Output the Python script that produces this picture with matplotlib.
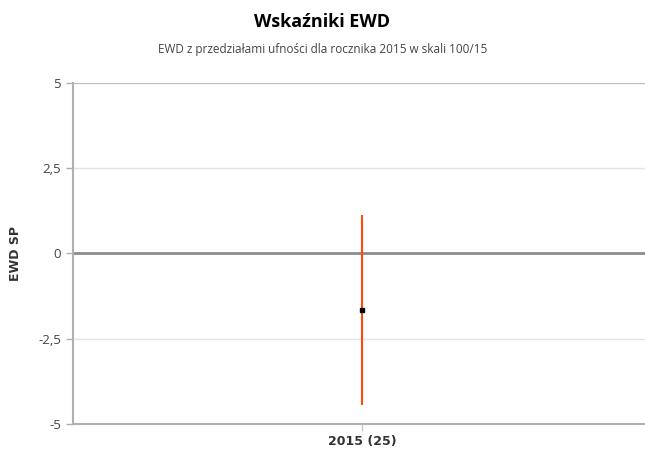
import numpy as np
import matplotlib.pyplot as plt

categories = ['2015 (25)']
ewd = [-1.66]
lower = [-4.44]
upper = [1.13]
yticks = [-5, -2.5, 0, 2.5, 5]
ytick_labels = ['-5', '-2,5', '0', '2,5', '5']

plt.rcParams['font.family'] = ['Open Sans', 'DejaVu Sans']

fig = plt.figure(figsize=(6.45, 4.49), dpi=100)
ax = fig.add_axes([73/645, 1-424/449, 1-73/645, (424-83)/449])

x = np.arange(len(categories))
ax.set_xlim(-0.5, 0.49)
ax.set_ylim(-5, 5)

for y in [2.5, -2.5]:
    ax.axhline(y, color='#e3e3e3', lw=1, zorder=0)
ax.axhline(5, color='#c0c0c0', lw=1, zorder=0)
ax.axhline(0, color='#8c8c8c', lw=2, zorder=1)

ax.vlines(x, lower, upper, color='#ff4a0a', lw=1.5, zorder=2)
ax.plot(x, ewd, 's', color='black', ms=3.5, zorder=3)

for s in ['top', 'right']:
    ax.spines[s].set_visible(False)
for s in ['left', 'bottom']:
    ax.spines[s].set_color('#b0b0b0')
    ax.spines[s].set_linewidth(1.5)

ax.set_yticks(yticks)
ax.set_yticklabels(ytick_labels)
ax.set_xticks(x)
ax.tick_params(axis='y', colors='#b0b0b0', labelcolor='#444444', labelsize=9.5, length=5, width=1)
ax.tick_params(axis='x', colors='#c8c8c8', labelcolor='#333333', length=5, width=1, pad=3)
ax.set_xticklabels(categories, family='DejaVu Sans', fontweight='bold', fontsize=9, color='#333333')

ax.set_ylabel('EWD SP', fontweight='bold', fontsize=9, color='#333333', family='DejaVu Sans', labelpad=12)

fig.text(0.5, 1-22/449, 'Wskaźniki EWD', ha='center', va='center', fontsize=13, fontweight='bold', color='black')
fig.text(0.5, 1-50/449, 'EWD z przedziałami ufności dla rocznika 2015 w skali 100/15', ha='center', va='center', fontsize=8.5, color='#444444')

fig.savefig('out.png', dpi=100)
